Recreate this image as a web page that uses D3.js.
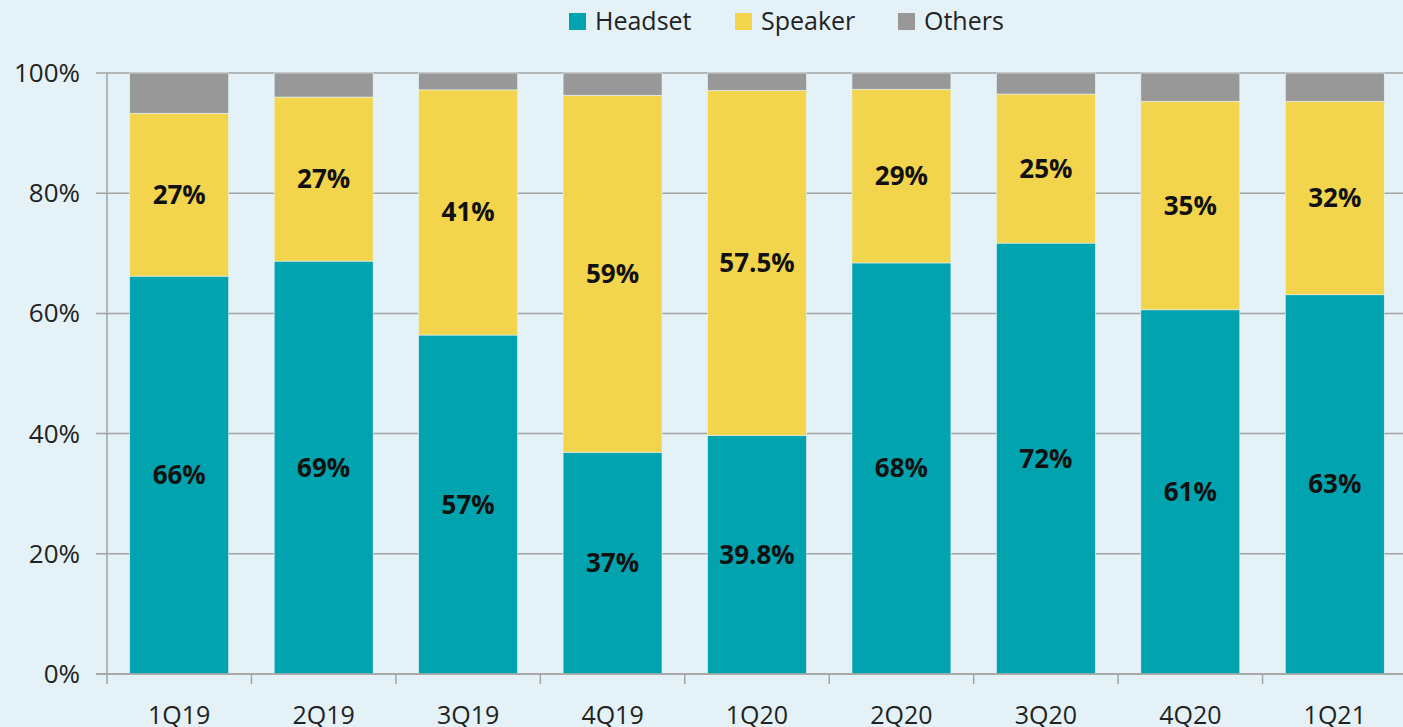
<!DOCTYPE html>
<html>
<head>
  <meta charset="UTF-8">
  <title>Headset vs Speaker share</title>
  <style>
    body { margin: 0; background: #e4f2f7; }
    svg { display: block; font-family: "Open Sans", "Liberation Sans", sans-serif; }
  </style>
</head>
<body>
<svg></svg>
<script src="https://d3js.org/d3.v7.min.js"></script>
<script>
    let width = 1403, height = 727;

    // data (percent)
    var quarters = ["1Q19", "2Q19", "3Q19", "4Q19", "1Q20", "2Q20", "3Q20", "4Q20", "1Q21"];
    var headset = [66.2, 68.7, 56.4, 36.9, 39.7, 68.4, 71.7, 60.6, 63.1];
    var speaker = [27.1, 27.3, 40.8, 59.4, 57.4, 28.9, 24.8, 34.7, 32.2];
    var others  = [6.7, 4.0, 2.8, 3.7, 2.9, 2.7, 3.5, 4.7, 4.7];
    var headsetLabels = ["66%", "69%", "57%", "37%", "39.8%", "68%", "72%", "61%", "63%"];
    var speakerLabels = ["27%", "27%", "41%", "59%", "57.5%", "29%", "25%", "35%", "32%"];
    var seriesNames = ["Headset", "Speaker", "Others"];
    var yTicks = [0, 20, 40, 60, 80, 100];

    var colors = { Headset: "#00a3ae", Speaker: "#f2d44d", Others: "#989898" };

    let svg = d3.select("svg")
        .attr("width", width)
        .attr("height", height);

    const plotLeft = 107, plotTop = 73, plotBottom = 674, plotRight = 1407;

    var x = d3.scaleBand()
        .domain(quarters)
        .range([plotLeft, plotRight])
        .paddingInner(0.315)
        .paddingOuter(0.1575);

    var y = d3.scaleLinear()
        .domain([0, 100])
        .range([plotBottom, plotTop]);

    // gridlines
    svg.append("g")
        .selectAll("line")
        .data(yTicks)
        .enter().append("line")
        .attr("x1", plotLeft - 11)
        .attr("x2", width)
        .attr("y1", d => y(d))
        .attr("y2", d => y(d))
        .attr("stroke", "#a3a3a3")
        .attr("stroke-width", 1.5);

    // stack the series
    var rows = quarters.map((q, i) => ({ q: q, Headset: headset[i], Speaker: speaker[i], Others: others[i] }));
    var stack = d3.stack().keys(seriesNames)(rows);

    var layers = svg.append("g")
        .selectAll("g")
        .data(stack)
        .enter().append("g")
        .attr("fill", d => colors[d.key]);

    layers.selectAll("rect")
        .data(d => d)
        .enter().append("rect")
        .attr("x", d => x(d.data.q))
        .attr("width", x.bandwidth())
        .attr("y", d => y(Math.min(d[1], 100)))
        .attr("height", d => y(d[0]) - y(Math.min(d[1], 100)))
        .attr("stroke", "#e8f3f6")
        .attr("stroke-width", 0.6);

    // y axis line
    svg.append("line")
        .attr("x1", plotLeft).attr("x2", plotLeft)
        .attr("y1", plotTop).attr("y2", plotBottom + 10)
        .attr("stroke", "#a3a3a3")
        .attr("stroke-width", 1.5);

    // x axis
    var xAxis = svg.append("g")
        .attr("transform", "translate(0," + plotBottom + ")");
    xAxis.append("line")
        .attr("x1", plotLeft - 11).attr("x2", width)
        .attr("stroke", "#a3a3a3")
        .attr("stroke-width", 1.5);
    var step = x.step();
    xAxis.selectAll("line.tick")
        .data(quarters)
        .enter().append("line")
        .attr("class", "tick")
        .attr("x1", d => x(d) - (step - x.bandwidth()) / 2 + step)
        .attr("x2", d => x(d) - (step - x.bandwidth()) / 2 + step)
        .attr("y1", 0).attr("y2", 10)
        .attr("stroke", "#a3a3a3")
        .attr("stroke-width", 1.5);
    xAxis.selectAll("text")
        .data(quarters)
        .enter().append("text")
        .attr("x", d => x(d) + x.bandwidth() / 2)
        .attr("y", 50)
        .attr("text-anchor", "middle")
        .attr("font-size", 25)
        .attr("fill", "#222")
        .text(d => d);

    // y tick labels
    svg.append("g")
        .selectAll("text")
        .data(yTicks)
        .enter().append("text")
        .attr("x", 80)
        .attr("y", d => y(d) + 9)
        .attr("text-anchor", "end")
        .attr("font-size", 26)
        .attr("fill", "#222")
        .text(d => d + "%");

    // data labels
    var labels = svg.append("g")
        .attr("font-weight", "bold")
        .attr("font-size", 26)
        .attr("fill", "#111")
        .attr("text-anchor", "middle");

    labels.selectAll("text.h")
        .data(stack[0])
        .enter().append("text")
        .attr("class", "h")
        .attr("x", d => x(d.data.q) + x.bandwidth() / 2)
        .attr("y", d => (y(d[0]) + y(d[1])) / 2 + 9)
        .text((d, i) => headsetLabels[i]);

    labels.selectAll("text.s")
        .data(stack[1])
        .enter().append("text")
        .attr("class", "s")
        .attr("x", d => x(d.data.q) + x.bandwidth() / 2)
        .attr("y", d => (y(d[0]) + y(d[1])) / 2 + 9)
        .text((d, i) => speakerLabels[i]);

    // legend
    var legendX = [569, 735, 898];
    var legend = svg.append("g")
        .selectAll("g")
        .data(seriesNames)
        .enter().append("g")
        .attr("transform", (d, i) => "translate(" + legendX[i] + ",13)");

    legend.append("rect")
        .attr("width", 17)
        .attr("height", 17)
        .attr("fill", d => colors[d]);

    legend.append("text")
        .attr("x", 26)
        .attr("y", 17)
        .attr("font-size", 25)
        .attr("fill", "#222")
        .text(d => d);
</script>
</body>
</html>
